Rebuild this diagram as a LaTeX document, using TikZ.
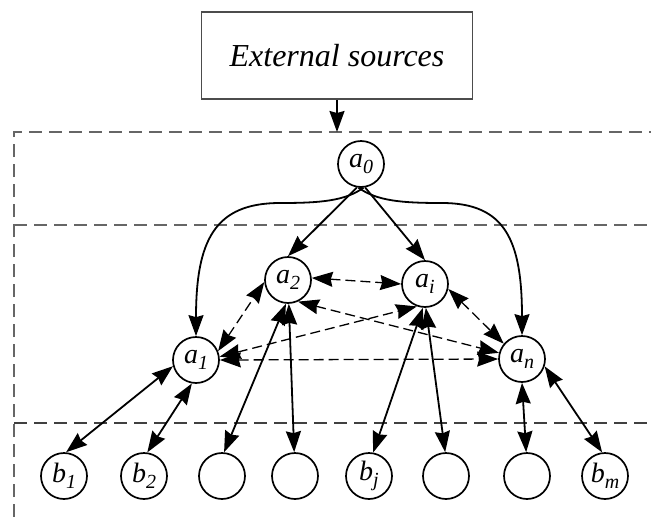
\documentclass[tikz,border=0pt]{standalone}
\usepackage{fontspec}
\setmainfont{Liberation Serif}
\usetikzlibrary{arrows.meta}

% node label: italic letter with a lowered italic index
\newcommand{\vlab}[2]{{\fontsize{28}{28}\selectfont\itshape #1\raisebox{-6pt}{\fontsize{20}{20}\selectfont #2}}}

\begin{document}
\begin{tikzpicture}[x=1pt,y=-1pt,
  vtx/.style={circle,draw,line width=1.7pt,minimum size=46pt,inner sep=0pt},
  tipshape/.style={},
  head/.style={-{Stealth[length=21pt,width=15pt,inset=2pt]}},
  twohead/.style={{Stealth[length=21pt,width=15pt,inset=2pt]}-{Stealth[length=21pt,width=15pt,inset=2pt]}},
  solidlink/.style={line width=1.8pt},
  dashlink/.style={line width=1.3pt,dash pattern=on 10pt off 5pt},
  zone/.style={draw=black!60,line width=2pt,dash pattern=on 13pt off 7pt},
  zonelow/.style={draw=black!75,line width=1.5pt,dash pattern=on 13pt off 7pt}]

\useasboundingbox (0,0) rectangle (651,517);

% layer boundaries
\draw[zone] (14,517) -- (14,132) -- (651,132);
\draw[zone] (14,225) -- (651,225);
\draw[zonelow] (14,423) -- (651,423);

% source box
\node[draw=black!70,line width=1.7pt,minimum width=271pt,minimum height=87pt,inner sep=0pt]
  (src) at (337,55.5) {\fontsize{32}{32}\selectfont\itshape External sources};
\coordinate (entry) at (337,132);

% upper agents
\node[vtx] (a0) at (361,164) {\vlab{a}{0}};
\node[vtx] (a2) at (288,280) {\vlab{a}{2}};
\node[vtx] (ai) at (425,284) {\vlab{a}{i}};
\node[vtx] (a1) at (196,360) {\vlab{a}{1}};
\node[vtx] (an) at (522,359) {\vlab{a}{n}};

% lower agents
\node[vtx] (b1) at (64,476) {\vlab{b}{1}};
\node[vtx] (b2) at (144,476) {\vlab{b}{2}};
\node[vtx] (c3) at (222,476) {};
\node[vtx] (c4) at (295,476) {};
\node[vtx] (bj) at (369,476) {\vlab{b}{j}};
\node[vtx] (c6) at (446,476) {};
\node[vtx] (c7) at (527,476) {};
\node[vtx] (bm) at (605,476) {\vlab{b}{m}};

% input from outside
\draw[head,solidlink] (src.south) -- (entry);

% a0 to the second layer
\draw[head,solidlink] (a0.-100) -- (a2.north);
\draw[head,solidlink] (a0.-80) -- (ai.north);
\draw[head,solidlink] (a0.-84) .. controls (345,201) and (320,203) .. (280,203)
  .. controls (215,203) and (196,240) .. (a1.north);
\draw[head,solidlink] (a0.-96) .. controls (377,201) and (402,203) .. (442,203)
  .. controls (505,203) and (522,240) .. (an.north);

% links among the second layer
\draw[twohead,dashlink] (a2.5) -- (ai.180);
\draw[twohead,dashlink] (a1.22) -- (a2.185);
\draw[twohead,dashlink] (a1.8) -- (ai.-110);
\draw[twohead,dashlink] (a1.0) -- (an.180);
\draw[twohead,dashlink] (a2.-65) -- (an.165);
\draw[twohead,dashlink] (ai.-12) -- (an.140);

% links to the lower layer
\draw[twohead,solidlink] (a1.195) -- (b1.85);
\draw[twohead,solidlink] (a1.-100) -- (b2.82);
\draw[twohead,solidlink] (a2.-95) -- (c3.85);
\draw[twohead,solidlink] (a2.-88) -- (c4.92);
\draw[twohead,solidlink] (ai.-95) -- (bj.80);
\draw[twohead,solidlink] (ai.-88) -- (c6.92);
\draw[twohead,solidlink] (an.-90) -- (c7.92);
\draw[twohead,solidlink] (an.-18) -- (bm.97);
\end{tikzpicture}
\end{document}
